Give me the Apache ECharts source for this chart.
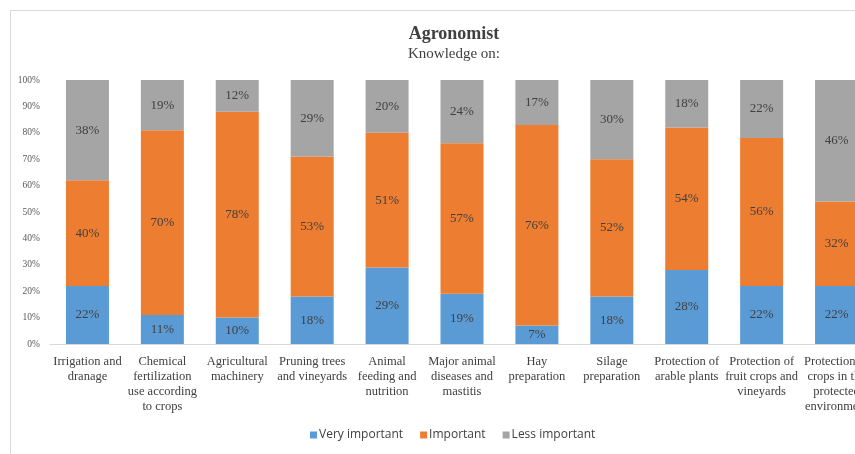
<!DOCTYPE html>
<html lang="en">
<head>
    <meta charset="UTF-8">
    <title>Agronomist</title>
    <style>
        html, body { margin: 0; padding: 0; background: #fff; overflow: hidden; }
        /* the source picture is cut on the right, so the chart is wider than the window */
        #main { width: 900px; height: 454px; }
    </style>
</head>
<body>
    <div id="main"></div>
    <script src="https://cdn.jsdelivr.net/npm/echarts@6/dist/echarts.min.js"></script>
    <script>
        var categories = [
            'Irrigation and\ndranage',
            'Chemical\nfertilization\nuse according\nto crops',
            'Agricultural\nmachinery',
            'Pruning trees\nand vineyards',
            'Animal\nfeeding and\nnutrition',
            'Major animal\ndiseases and\nmastitis',
            'Hay\npreparation',
            'Silage\npreparation',
            'Protection of\narable plants',
            'Protection of\nfruit crops and\nvineyards',
            'Protection of\ncrops in the\nprotected\nenvironment'
        ];
        var veryImportant = [22, 11, 10, 18, 29, 19, 7, 18, 28, 22, 22];
        var important = [40, 70, 78, 53, 51, 57, 76, 52, 54, 56, 32];
        var lessImportant = [38, 19, 12, 29, 20, 24, 17, 30, 18, 22, 46];

        var serif = '"Liberation Serif", "Times New Roman", serif';
        var myChart = echarts.init(document.getElementById('main'));

        // label settings shared by the three stacks
        var barLabel = {
            show: true,
            position: 'inside',
            formatter: '{c}%',
            fontFamily: serif,
            fontSize: 13,
            color: '#404040'
        };

        var option = {
            animation: false,
            title: [{
                text: 'Agronomist',
                left: 449,
                top: 20,
                textAlign: 'center',
                textStyle: { fontFamily: serif, fontSize: 18, fontWeight: 'bold', color: '#404040' }
            }, {
                text: 'Knowledge on:',
                left: 449,
                top: 42,
                textAlign: 'center',
                textStyle: { fontFamily: serif, fontSize: 15, fontWeight: 'normal', color: '#404040' }
            }],
            graphic: [{
                type: 'rect',
                shape: { x: 10.5, y: 10.5, width: 950, height: 500 },
                style: { fill: 'none', stroke: '#d9d9d9', lineWidth: 1 },
                silent: true
            }],
            legend: {
                top: 429,
                left: 310,
                padding: 0,
                itemWidth: 7,
                itemHeight: 7,
                itemGap: 17,
                icon: 'rect',
                textStyle: { fontFamily: '"Open Sans", "Liberation Sans", sans-serif', fontSize: 12, color: '#404040', padding: [0, 0, 0, -3] },
                data: ['Very important', 'Important', 'Less important']
            },
            grid: { left: 50, right: 26, top: 80, bottom: 110 },
            xAxis: {
                type: 'category',
                data: categories,
                axisTick: { show: false },
                axisLine: { lineStyle: { color: '#d9d9d9' } },
                axisLabel: {
                    interval: 0,
                    margin: 10,
                    fontFamily: serif,
                    fontSize: 12.5,
                    lineHeight: 15,
                    color: '#404040'
                }
            },
            yAxis: {
                type: 'value',
                min: 0,
                max: 100,
                interval: 10,
                splitLine: { show: false },
                axisLine: { show: false },
                axisTick: { show: false },
                axisLabel: { formatter: '{value}%', fontFamily: serif, fontSize: 9.5, color: '#595959', margin: 10 }
            },
            series: [{
                name: 'Very important',
                type: 'bar',
                stack: 'all',
                barWidth: 43,
                itemStyle: { color: '#5b9bd5' },
                label: barLabel,
                data: veryImportant
            }, {
                name: 'Important',
                type: 'bar',
                stack: 'all',
                barWidth: 43,
                itemStyle: { color: '#ed7d31' },
                label: barLabel,
                data: important
            }, {
                name: 'Less important',
                type: 'bar',
                stack: 'all',
                barWidth: 43,
                itemStyle: { color: '#a5a5a5' },
                label: barLabel,
                data: lessImportant
            }]
        };
        myChart.setOption(option);
    </script>
</body>
</html>
